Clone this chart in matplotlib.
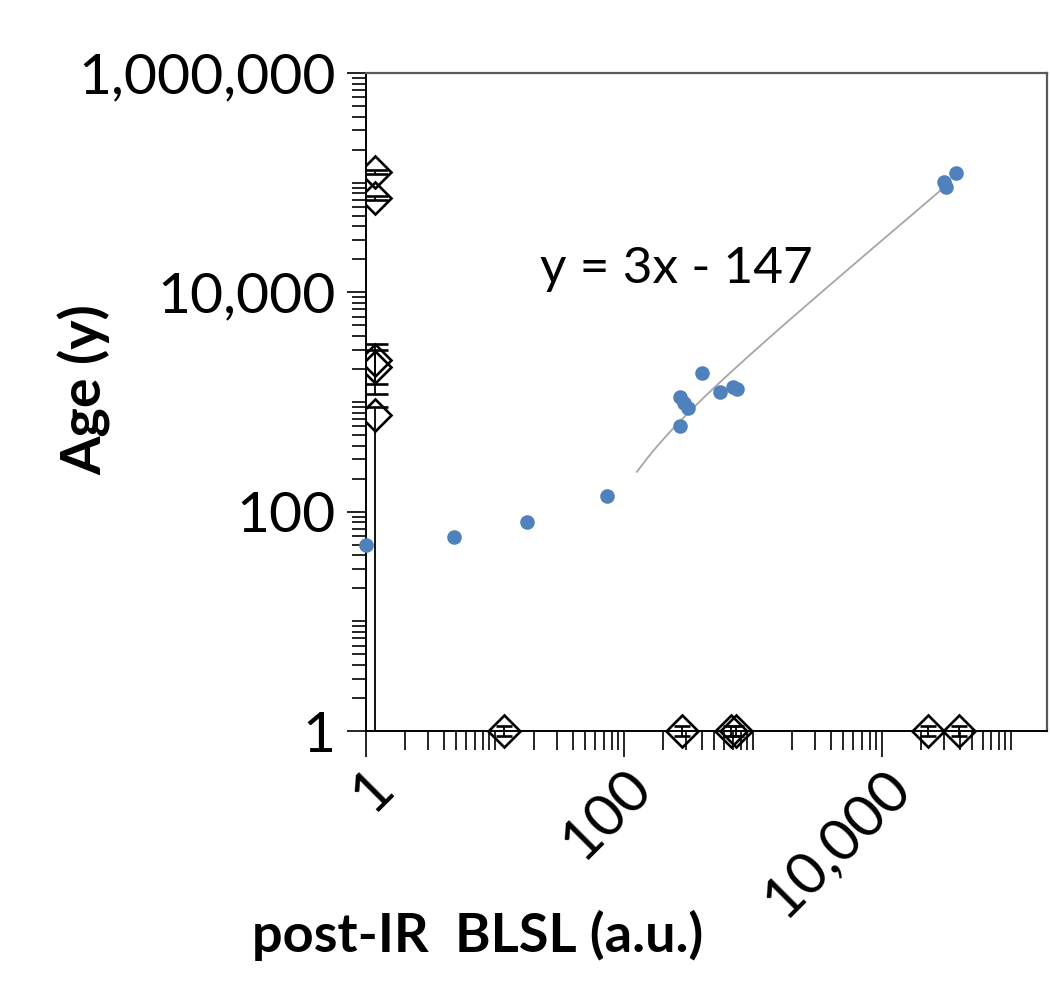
import numpy as np
import matplotlib
matplotlib.use("Agg")
import matplotlib.pyplot as plt
from matplotlib.ticker import FixedLocator, FuncFormatter, NullFormatter

plt.rcParams['font.family'] = ['Lato', 'DejaVu Sans']

# measured samples (blue dots)
blsl = [1.0, 4.8, 17.7, 74, 272, 292, 313, 272, 402, 555, 700, 751, 30250, 31300, 37500]
age = [50, 59, 80, 139, 1111, 979, 881, 604, 1837, 1233, 1370, 1313, 101000, 91300, 122000]

# ages plotted against the y axis (open diamonds at left)
side_x = [1.17, 1.17, 1.17, 1.17, 1.17]
side_age = [125000, 72400, 2414, 2084, 761]
side_err_lo = [5000, 3000, 960, 900, 760.5]
side_err_hi = [5000, 3000, 960, 900, 140]

# signals plotted against the x axis (open diamonds at bottom)
base_blsl = [11.7, 282, 675, 738, 22700, 39500]
base_y = [1, 1, 1, 1, 1, 1]

# linear trend y = 3x - 147
fit_slope, fit_icpt = 3, -147
fit_range = [126, 30300]

blue = "#4f81bd"

fig = plt.figure(figsize=(10.5, 9.93), dpi=100)
ax = fig.add_axes([366/1050, 1 - 731/993, (1047 - 366)/1050, (731 - 73)/993])
ax.set_xscale("log")
ax.set_yscale("log")
ax.set_xlim(1, 10**5.278)
ax.set_ylim(1, 1e6)

fx = np.geomspace(fit_range[0], fit_range[1], 200)
ax.plot(fx, fit_slope * fx + fit_icpt, color="#a6a6a6", lw=1.3, zorder=2)

ax.plot(blsl, age, "o", color=blue, ms=10.5, mec="none", zorder=4, clip_on=False)

ax.errorbar(side_x, side_age, yerr=[side_err_lo, side_err_hi], fmt="D", ms=16.5,
            mfc="none", mec="black", mew=1.9, ecolor="black", elinewidth=1.3,
            capsize=9, capthick=1.3, zorder=5, clip_on=True)
ax.errorbar(base_blsl, base_y, yerr=0.1, fmt="D", ms=16.5,
            mfc="none", mec="black", mew=1.9, ecolor="black", elinewidth=1.3,
            capsize=6, capthick=1.3, zorder=5, clip_on=False)

major = [1, 100, 1e4, 1e6]
minor = [j * 10.0**k for k in range(0, 7) for j in range(1, 10) if j * 10.0**k not in major]
for axis in (ax.xaxis, ax.yaxis):
    axis.set_major_locator(FixedLocator(major))
    axis.set_minor_locator(FixedLocator(minor))
    axis.set_major_formatter(FuncFormatter(lambda v, p: f"{v:,.0f}"))
    axis.set_minor_formatter(NullFormatter())

ax.tick_params(axis="y", which="major", length=14, width=1.2, direction="out",
               labelsize=41, pad=8, color="black")
ax.tick_params(axis="y", which="minor", length=10, width=1.2, direction="out", color="black")
ax.tick_params(axis="x", which="major", length=19, width=1.2, direction="out",
               labelsize=42, pad=2, color="black")
ax.tick_params(axis="x", which="minor", length=14, width=1.2, direction="out", color="black")
for lab in ax.get_xticklabels():
    lab.set_rotation(45)
    lab.set_ha("right")
    lab.set_va("top")
    lab.set_rotation_mode("anchor")

for s in ("left", "bottom"):
    ax.spines[s].set_color("black")
    ax.spines[s].set_linewidth(1.4)
for s in ("top", "right"):
    ax.spines[s].set_color("#595959")
    ax.spines[s].set_linewidth(1.6)

fig.text(540/1050, 1 - 283/993, "y = 3x - 147", fontsize=37, ha="left", va="baseline")
fig.text(85/1050, 1 - 390/993, "Age (y)", fontsize=40, fontweight="bold",
         rotation=90, ha="center", va="center")
fig.text(478/1050, 1 - 952/993, "post-IR  BLSL (a.u.)", fontsize=39, fontweight="bold",
         ha="center", va="baseline")

fig.savefig("out.png", dpi=100)
plt.close(fig)
